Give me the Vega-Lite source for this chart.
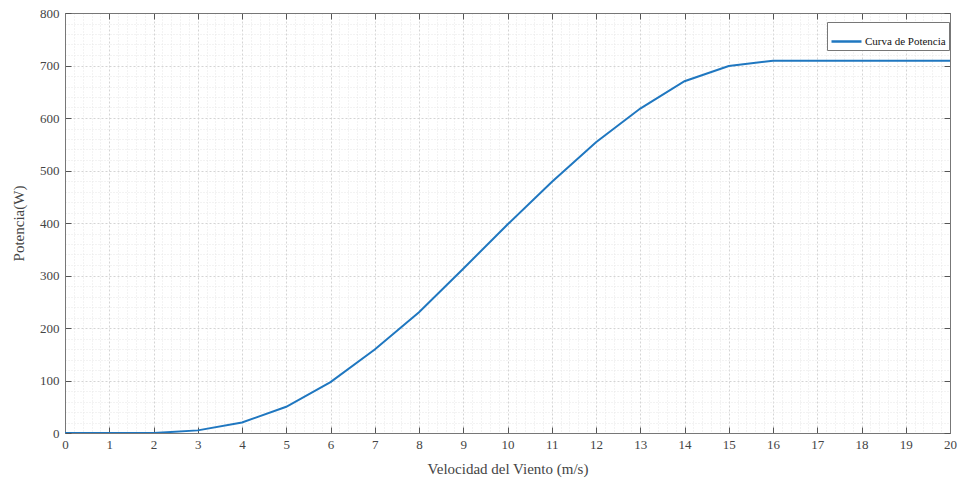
{
  "$schema": "https://vega.github.io/schema/vega-lite/v6.json",
  "autosize": {"type": "none"},
  "padding": {"left": 65, "top": 13, "right": 8, "bottom": 48},
  "width": 885,
  "height": 420,
  "background": "white",
  "config": {
    "font": "Liberation Serif",
    "view": {"stroke": "#777", "strokeWidth": 1}
  },
  "data": {
    "values": [
      {"v": 0, "p": 0}, {"v": 1, "p": 0}, {"v": 2, "p": 0}, {"v": 3, "p": 5},
      {"v": 4, "p": 20}, {"v": 5, "p": 50}, {"v": 6, "p": 97}, {"v": 7, "p": 159},
      {"v": 8, "p": 230}, {"v": 9, "p": 313}, {"v": 10, "p": 397}, {"v": 11, "p": 478},
      {"v": 12, "p": 554}, {"v": 13, "p": 618}, {"v": 14, "p": 670}, {"v": 15, "p": 699},
      {"v": 16, "p": 709}, {"v": 17, "p": 709}, {"v": 18, "p": 709}, {"v": 19, "p": 709},
      {"v": 20, "p": 709}
    ]
  },
  "layer": [
    {
      "mark": {"type": "line", "strokeWidth": 2, "clip": true},
      "encoding": {
        "x": {
          "field": "v", "type": "quantitative",
          "scale": {"domain": [0, 20], "nice": false, "zero": false},
          "axis": {
            "tickCount": 100,
            "grid": true,
            "gridColor": {"condition": {"test": "datum.value % 1 === 0", "value": "#d4d4d4"}, "value": "#e6e6e6"},
            "gridDash": {"condition": {"test": "datum.value % 1 === 0", "value": [2, 2]}, "value": [1, 2]},
            "gridWidth": 1,
            "tickOpacity": {"condition": {"test": "datum.value % 1 === 0", "value": 1}, "value": 0},
            "tickColor": "#555",
            "tickSize": -6,
            "labelPadding": 11,
            "labelExpr": "datum.value % 1 === 0 ? format(datum.value, 'd') : ''",
            "labelOverlap": false,
            "labelFontSize": 13,
            "labelColor": "#444",
            "labelFlush": false,
            "domainColor": "#777",
            "title": "Velocidad del Viento (m/s)",
            "titleFontSize": 15,
            "titleFontWeight": "normal",
            "titleColor": "#444",
            "titleBaseline": "middle",
            "titleY": 35
          }
        },
        "y": {
          "field": "p", "type": "quantitative",
          "scale": {"domain": [0, 800], "nice": false},
          "axis": {
            "tickCount": 40,
            "grid": true,
            "gridColor": {"condition": {"test": "datum.value % 100 === 0", "value": "#d4d4d4"}, "value": "#e6e6e6"},
            "gridDash": {"condition": {"test": "datum.value % 100 === 0", "value": [2, 2]}, "value": [1, 2]},
            "gridWidth": 1,
            "tickOpacity": {"condition": {"test": "datum.value % 100 === 0", "value": 1}, "value": 0},
            "tickColor": "#555",
            "tickSize": -6,
            "labelPadding": 12,
            "labelExpr": "datum.value % 100 === 0 ? format(datum.value, 'd') : ''",
            "labelOverlap": false,
            "labelFontSize": 13,
            "labelColor": "#444",
            "labelFlush": false,
            "domainColor": "#777",
            "title": "Potencia(W)",
            "titleFontSize": 15,
            "titleFontWeight": "normal",
            "titleColor": "#444",
            "titleAngle": -90,
            "titleBaseline": "middle",
            "titleX": -47,
            "titleY": 210
          }
        },
        "color": {
          "datum": "Curva de Potencia",
          "type": "nominal",
          "scale": {"range": ["#1f77c0"]},
          "legend": {
            "orient": "none",
            "legendX": 762,
            "legendY": 9,
            "title": null,
            "symbolType": "stroke",
            "symbolSize": 900,
            "symbolStrokeWidth": 2.5,
            "labelFontSize": 11,
            "labelColor": "#111",
            "labelOffset": 2,
            "strokeColor": "#777",
            "fillColor": "white",
            "padding": 3
          }
        }
      }
    },
    {
      "mark": {"type": "line", "opacity": 0},
      "encoding": {
        "x": {
          "field": "v", "type": "quantitative",
          "axis": {"orient": "top", "tickCount": 20, "grid": false, "labels": false, "title": null, "tickSize": -6, "tickColor": "#555", "domainColor": "#777"}
        },
        "y": {
          "field": "p", "type": "quantitative",
          "axis": {"orient": "right", "tickCount": 8, "grid": false, "labels": false, "title": null, "tickSize": -6, "tickColor": "#555", "domainColor": "#777"}
        }
      }
    }
  ],
  "resolve": {"axis": {"x": "independent", "y": "independent"}}
}
